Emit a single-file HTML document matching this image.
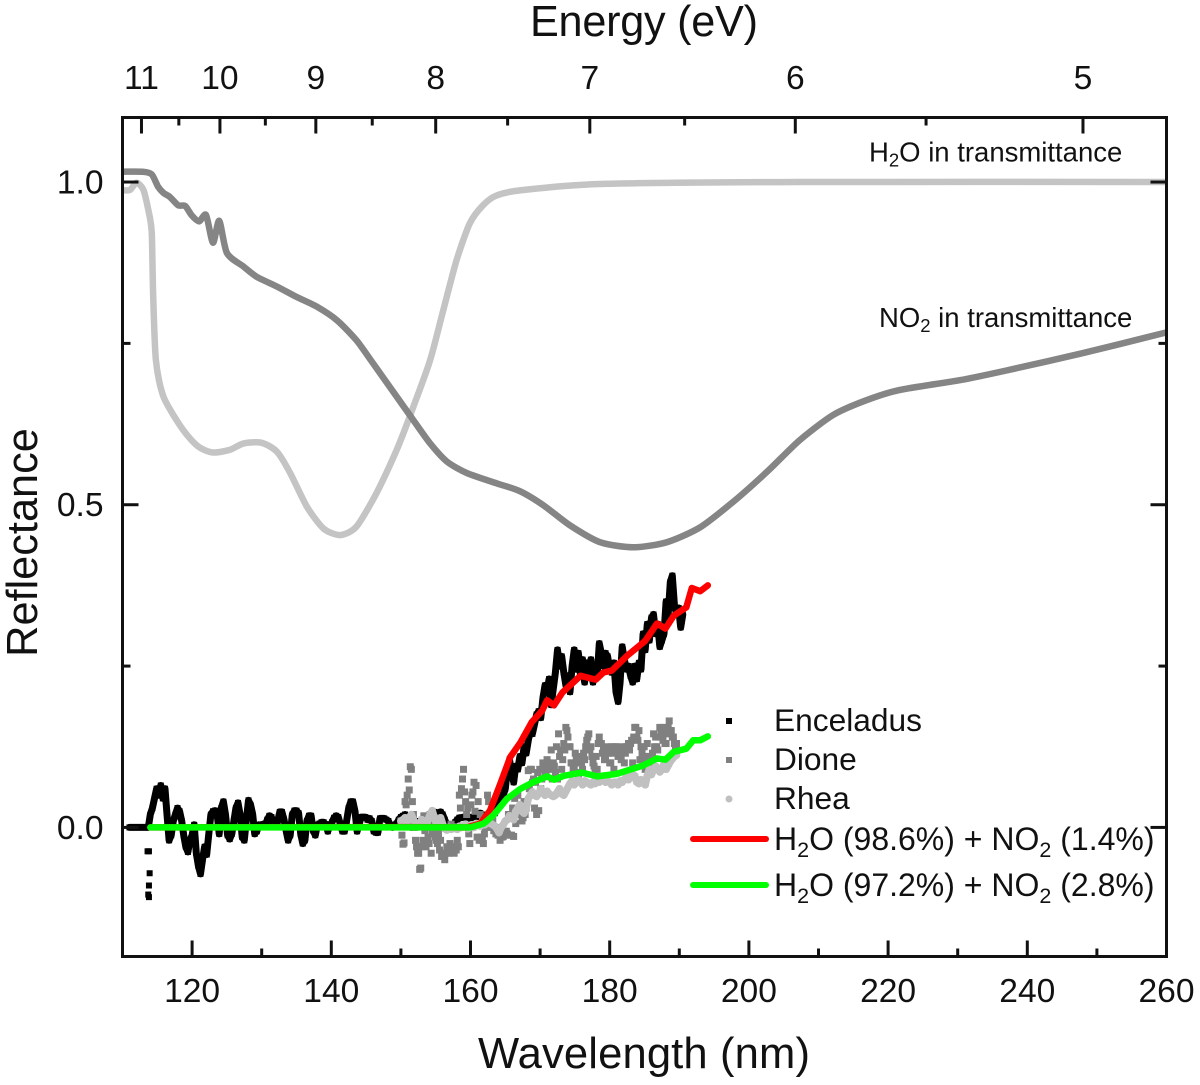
<!DOCTYPE html>
<html>
<head>
<meta charset="utf-8">
<title>Reflectance chart</title>
<style>
html,body{margin:0;padding:0;background:#fff;width:1200px;height:1085px;overflow:hidden}
svg{display:block}
text{font-family:"Liberation Sans",Arial,sans-serif;fill:#111}
</style>
</head>
<body>
<svg id="chart" xmlns="http://www.w3.org/2000/svg" width="1200" height="1085" viewBox="0 0 1200 1085">
  <g id="series-layer"></g>
  <rect x="122.5" y="117.5" width="1044" height="839" fill="none" stroke="#111" stroke-width="3"/>
  <g id="ticks-layer"></g>
  <text x="644" y="36" font-size="43.2" text-anchor="middle" textLength="228">Energy (eV)</text>
  <text x="644" y="1068" font-size="43.6" text-anchor="middle" textLength="332">Wavelength (nm)</text>
  <text transform="translate(37 542.5) rotate(-90)" font-size="43.3" text-anchor="middle">Reflectance</text>
  <text x="869" y="161.5" font-size="27.5">H<tspan font-size="18.5" dy="5">2</tspan><tspan dy="-5">O in transmittance</tspan></text>
  <text x="879" y="327" font-size="27.5">NO<tspan font-size="18.5" dy="5">2</tspan><tspan dy="-5"> in transmittance</tspan></text>
  <g>
    <rect x="726" y="718" width="6" height="6" fill="#000"/>
    <rect x="726" y="757" width="6" height="6" fill="#808080"/>
    <circle cx="729" cy="799" r="3.5" fill="#c0c0c0"/>
    <line x1="693" y1="839" x2="766" y2="839" stroke="#ff0000" stroke-width="6" stroke-linecap="round"/>
    <line x1="693" y1="885" x2="766" y2="885" stroke="#00ff00" stroke-width="6" stroke-linecap="round"/>
    <text x="774" y="731" font-size="31.7">Enceladus</text>
    <text x="774" y="770" font-size="31.7">Dione</text>
    <text x="774" y="809" font-size="31.7">Rhea</text>
    <text x="774" y="850" font-size="32">H<tspan font-size="21.5" dy="7">2</tspan><tspan dy="-7">O (98.6%) + NO</tspan><tspan font-size="21.5" dy="7">2</tspan><tspan dy="-7"> (1.4%)</tspan></text>
    <text x="774" y="896" font-size="32">H<tspan font-size="21.5" dy="7">2</tspan><tspan dy="-7">O (97.2%) + NO</tspan><tspan font-size="21.5" dy="7">2</tspan><tspan dy="-7"> (2.8%)</tspan></text>
  </g>
</svg>
<script>
// ---- axis tick data ----
const xMajorTicks = [120,140,160,180,200,220,240,260];
const xMinorTicks = [130,150,170,190,210,230,250];
const yMajorTicks = [0,0.5,1];
const yMinorTicks = [0.25,0.75];
const yTickLabels = ["0.0","0.5","1.0"];
const energyMajorTicks = [11,10,9,8,7,6,5];
const energyMinorTicks = [10.5,9.5,8.5,7.5,6.5,5.5];

// ---- transmittance curves ----
const no2Nm = [110.1,112.9,114.2,115.1,115.9,116.8,118,119,119.9,121,122,123,123.9,125,127.4,129.3,132.2,135,137.9,140.8,143.6,146,148.9,151.6,154.2,156.6,159.5,163.8,167.1,170.5,174.3,178.6,183.4,188.2,193,197.8,202.6,207.3,212.1,216.9,221.7,230.3,237,248,260];
const no2Values = [1.016,1.016,1.012,0.993,0.983,0.977,0.964,0.963,0.949,0.939,0.949,0.906,0.940,0.890,0.869,0.853,0.838,0.822,0.807,0.786,0.755,0.719,0.675,0.634,0.595,0.567,0.549,0.533,0.521,0.499,0.468,0.442,0.434,0.442,0.465,0.505,0.551,0.600,0.639,0.662,0.678,0.693,0.708,0.735,0.767];
const h2oNm = [110.1,111.1,112,113,113.7,114.2,114.4,114.8,115.9,118.7,120.9,123,125.4,127.4,130,132.2,134.1,136.5,138.9,141.3,143.6,146.5,149.4,151.8,154.2,156.1,158,159.9,161.8,163.7,167.1,178.6,207.3,260];
const h2oValues = [0.987,0.988,0.999,0.988,0.957,0.923,0.828,0.724,0.667,0.616,0.590,0.581,0.585,0.595,0.596,0.582,0.549,0.497,0.463,0.453,0.466,0.518,0.585,0.652,0.724,0.802,0.879,0.936,0.964,0.979,0.987,0.997,1.0,1.0];

// ---- model mixture lines ----
const redNm = [114,149.9,159.5,161.4,162.8,164.3,165.7,167.2,168.8,170.3,171,172,173.2,175.8,178,179.1,180.3,182.5,185.1,186.8,188,189.2,191,191.8,193,194.1];
const redValues = [0,0.0005,0,0.006,0.026,0.068,0.109,0.132,0.163,0.181,0.197,0.189,0.209,0.235,0.229,0.240,0.243,0.266,0.289,0.316,0.308,0.328,0.341,0.371,0.366,0.375];
const greenNm = [114,149.9,160,161.9,163.3,165.2,167.2,169,171,172,173.4,176,178.2,181,184.8,186.8,188,189.2,191,192,193,194.1];
const greenValues = [0,0,0,0.006,0.019,0.044,0.060,0.070,0.079,0.074,0.080,0.085,0.079,0.083,0.096,0.107,0.105,0.117,0.122,0.135,0.135,0.141];

// ---- measured spectra (wavelength = start + index * step) ----
const enceladusStartNm = 111;
const enceladusStepNm = 0.3;
const enceladusValues = [0,0,0,0,0,0,0,0,0,0,
.02,.03,.045,.06,.05,.065,.045,.06,.02,-.02,-.012,.01,.02,.03,.025,.01,-.012,-.03,-.038,-.02,-.012,.004,-.04,-.06,-.072,-.05,-.03,-.042,-.01,.02,.025,.026,.02,-.01,.03,.04,.02,-.012,-.018,-.01,.01,.03,.038,.02,-.015,-.02,.012,.042,.035,.02,-.01,-.006,.004,.002,.005,.003,.012,.018,.016,.004,.002,.01,.024,.024,.012,-.005,-.02,-.012,.02,.026,.026,.022,-.01,-.025,-.02,.01,.018,.018,-.005,-.012,.004,.006,.008,.008,.005,-.006,.003,.008,.015,.018,.016,.005,-.006,-.006,.01,.03,.04,.04,.025,-.006,.005,.016,.016,.016,.012,.014,.01,-.006,-.008,-.008,.014,.014,.014,.012,.01,.002,0,.004,.006,.012,.016,.018,
.02,.012,.005,0,.005,.01,.005,.008,.012,.01,.015,.018,.02,.024,.024,.02,.022,.024,.02,.012,.005,0,0,.004,.008,.012,.015,.015,.016,.016,.014,.015,.016,.014,.016,.02,.022,.02,
.015,.012,.02,.018,.02,.022,.03,.035,.045,.05,.06,.09,.105,.085,.07,.095,.09,.11,.10,.125,.115,.135,.15,.145,.16,.175,.18,.17,.20,.22,.21,.23,.19,.215,.24,.275,.25,.265,.24,.22,.235,.21,.25,.275,.245,.27,.235,.26,.225,.255,.235,.26,.225,.25,.235,.285,.27,.25,.27,.265,.245,.24,.255,.21,.195,.225,.28,.26,.245,.25,.235,.225,.25,.23,.255,.245,.30,.275,.315,.29,.325,.33,.30,.315,.28,.29,.30,.35,.33,.38,.39,.345,.33,.34,.31,.33];
const enceladusOutlierNm = [113.6,113.8,113.9,113.8,113.7,113.8];
const enceladusOutlierValues = [-.037,-.037,-.071,-.09,-.104,-.108];

const dioneStartNm = 150;
const dioneStepNm = 0.3;
const dioneValues = [.01,-.026,.04,.05,.058,.09,.02,-.02,-.04,-.065,-.03,.018,-.03,-.015,.02,-.01,.015,-.02,-.01,-.02,-.045,-.05,-.03,-.04,.005,-.035,-.03,-.02,.05,.06,.09,.04,.03,-.025,.05,.07,.065,.04,.02,-.02,-.01,.01,.04,.02,.01,-.002,0,-.004,-.002,-.014,-.006,-.01,-.012,-.012,-.014,.006,.05,.03,.01,.04,.03,.088,.09,.07,.03,.02,.026,.06,.10,.08,.105,.095,.12,.10,.085,.075,.11,.09,.13,.155,.14,.125,.10,.09,.105,.08,.11,.09,.105,.135,.145,.125,.10,.09,.09,.14,.13,.12,.11,.125,.10,.125,.09,.125,.11,.115,.125,.10,.125,.13,.13,.10,.155,.14,.15,.125,.10,.09,.13,.11,.10,.145,.14,.12,.155,.14,.155,.13,.155,.15,.14,.13,.13];
const dioneSecondStartNm = 150.15;
const dioneSecondStepNm = 0.3;
const dioneSecondValues = [-.012,-.024,.035,.075,.094,.04,0,-.03,-.04,-.063,-.02,-.005,0,-.025,-.04,.01,-.015,-.025,-.035,-.045,-.04,-.04,-.035,-.025,-.03,-.04,-.035,-.03,.03,.075,.055,.02,-.01,.035,.055,.025,-.015,-.02,-.015,-.025,0,.05,.02,0,-.005,-.01,-.012,-.02,-.015,-.008,-.006,.02,.02,.03,.045,.05,.03,.02,.015,.02,.04,.06,.09,.075,.07,.085,.09,.075,.09,.085,.10,.09,.075,.095,.125,.145,.12,.105,.12,.15,.125,.10,.09,.115,.10,.085,.10,.115,.125,.14,.12,.11,.095,.11,.13,.13,.115,.105,.12,.115,.10,.115,.125,.12,.115,.105,.12,.115,.125,.12,.135,.14,.155,.135,.105,.115,.125,.11,.10,.095,.115,.125,.125,.14,.15,.135,.13,.145,.165,.15,.14,.125];

const rheaStartNm = 150;
const rheaStepNm = 0.3;
const rheaValues = [.01,.012,.015,.008,.015,.02,.012,.005,.002,.006,.012,.005,.002,.012,.02,.026,.015,.006,.01,.015,.005,-.002,-.004,0,-.003,-.002,0,-.003,.002,0,.003,.005,-.002,0,.004,0,.006,.004,.002,.008,.004,.006,.01,.006,.004,.002,-.002,-.008,0,.004,.01,.012,.018,.015,.012,.025,.03,.035,.025,.022,.03,.045,.05,.055,.05,.048,.052,.06,.055,.05,.056,.052,.05,.048,.05,.055,.06,.052,.05,.056,.062,.068,.072,.066,.07,.074,.07,.066,.072,.07,.068,.066,.07,.068,.072,.07,.074,.076,.07,.072,.07,.066,.07,.07,.066,.072,.07,.074,.078,.074,.08,.082,.08,.07,.068,.074,.07,.066,.08,.09,.082,.09,.095,.092,.086,.09,.098,.09,.096,.102,.106,.11,.112];

// ---- axis functions ----
const xMin = 110, xMax = 260, yMin = -0.2, yMax = 1.1;
const plotLeft = 122.5, plotRight = 1166.5, plotTop = 117.5, plotBottom = 956.5;
function xScale(nm){ return plotLeft + (nm - xMin) / (xMax - xMin) * (plotRight - plotLeft); }
function yScale(v){ return plotBottom - (v - yMin) / (yMax - yMin) * (plotBottom - plotTop); }
function energyToNm(e){ return 1240 / e; }

const SVGNS = 'http://www.w3.org/2000/svg';
const seriesLayer = document.getElementById('series-layer');
const ticksLayer = document.getElementById('ticks-layer');

function addTick(x1, y1, x2, y2, name){
  const el = document.createElementNS(SVGNS, 'line');
  el.setAttribute('x1', x1);
  el.setAttribute('y1', y1);
  el.setAttribute('x2', x2);
  el.setAttribute('y2', y2);
  el.setAttribute('stroke', '#111');
  el.setAttribute('stroke-width', '3');
  
  
  ticksLayer.appendChild(el);
}
function addLabel(x, y, str, anchor, name){
  const el = document.createElementNS(SVGNS, 'text');
  el.setAttribute('x', x);
  el.setAttribute('y', y);
  el.setAttribute('font-size', '33.6');
  el.setAttribute('text-anchor', anchor);
  el.textContent = str;
  
  
  ticksLayer.appendChild(el);
}

const majorLen = 16, minorLen = 8;
xMajorTicks.forEach(function(t){
  addTick(xScale(t), plotBottom, xScale(t), plotBottom - majorLen, 'x-major-tick');
  addLabel(xScale(t), 1002, String(t), 'middle', 'x-tick-label');
});
xMinorTicks.forEach(function(t){
  addTick(xScale(t), plotBottom, xScale(t), plotBottom - minorLen, 'x-minor-tick');
});
energyMajorTicks.forEach(function(e){
  addTick(xScale(energyToNm(e)), plotTop, xScale(energyToNm(e)), plotTop + majorLen, 'energy-major-tick');
  addLabel(xScale(energyToNm(e)), 89, String(e), 'middle', 'energy-tick-label');
});
energyMinorTicks.forEach(function(e){
  addTick(xScale(energyToNm(e)), plotTop, xScale(energyToNm(e)), plotTop + minorLen, 'energy-minor-tick');
});
yMajorTicks.forEach(function(v, i){
  addTick(plotLeft, yScale(v), plotLeft + majorLen, yScale(v), 'y-major-tick-left');
  addTick(plotRight, yScale(v), plotRight - majorLen, yScale(v), 'y-major-tick-right');
  addLabel(103.5, yScale(v) + 11.5, yTickLabels[i], 'end', 'y-tick-label');
});
yMinorTicks.forEach(function(v){
  addTick(plotLeft, yScale(v), plotLeft + minorLen, yScale(v), 'y-minor-tick-left');
  addTick(plotRight, yScale(v), plotRight - minorLen, yScale(v), 'y-minor-tick-right');
});

function drawSquares(startNm, stepNm, values, color, size, name){
  values.forEach(function(v, i){
    const el = document.createElementNS(SVGNS, 'rect');
    el.setAttribute('x', xScale(startNm + i * stepNm) - size / 2);
    el.setAttribute('y', yScale(v) - size / 2);
    el.setAttribute('width', size);
    el.setAttribute('height', size);
    el.setAttribute('fill', color);
    
    
    seriesLayer.appendChild(el);
  });
}
function drawCircles(startNm, stepNm, values, color, name){
  values.forEach(function(v, i){
    const el = document.createElementNS(SVGNS, 'circle');
    el.setAttribute('cx', xScale(startNm + i * stepNm));
    el.setAttribute('cy', yScale(v));
    el.setAttribute('r', 3.8);
    el.setAttribute('fill', color);
    
    
    seriesLayer.appendChild(el);
  });
}
function drawLine(nm, values, color, width, name){
  const el = document.createElementNS(SVGNS, 'polyline');
  const pts = nm.map(function(n, i){ return xScale(n).toFixed(1) + ',' + yScale(values[i]).toFixed(1); });
  el.setAttribute('points', pts.join(' '));
  el.setAttribute('fill', 'none');
  el.setAttribute('stroke', color);
  el.setAttribute('stroke-width', width);
  el.setAttribute('stroke-linejoin', 'round');
  el.setAttribute('stroke-linecap', 'round');
  
  
  seriesLayer.appendChild(el);
}
function drawSmoothLine(nm, values, color, width, name){
  const px = nm.map(xScale);
  const py = values.map(yScale);
  const k = 1 / 8;
  let d = 'M' + px[0].toFixed(1) + ' ' + py[0].toFixed(1);
  for (let i = 0; i < px.length - 1; i++) {
    const a = Math.max(i - 1, 0), b = Math.min(i + 2, px.length - 1);
    const c1x = px[i] + (px[i + 1] - px[a]) * k;
    const c1y = py[i] + (py[i + 1] - py[a]) * k;
    const c2x = px[i + 1] - (px[b] - px[i]) * k;
    const c2y = py[i + 1] - (py[b] - py[i]) * k;
    d += 'C' + c1x.toFixed(1) + ' ' + c1y.toFixed(1) + ' ' + c2x.toFixed(1) + ' ' + c2y.toFixed(1) + ' ' + px[i + 1].toFixed(1) + ' ' + py[i + 1].toFixed(1);
  }
  const el = document.createElementNS(SVGNS, 'path');
  el.setAttribute('d', d);
  el.setAttribute('fill', 'none');
  el.setAttribute('stroke', color);
  el.setAttribute('stroke-width', width);
  el.setAttribute('stroke-linejoin', 'round');
  
  
  seriesLayer.appendChild(el);
}
function sampledNm(startNm, stepNm, values){
  return values.map(function(v, i){ return startNm + i * stepNm; });
}

drawSmoothLine(h2oNm, h2oValues, '#c4c4c4', 6.5, 'h2o-transmittance-line');
drawSmoothLine(no2Nm, no2Values, '#858585', 6.5, 'no2-transmittance-line');

drawLine(sampledNm(enceladusStartNm, enceladusStepNm, enceladusValues), enceladusValues, '#000', 7, 'enceladus-trace');
drawSquares(enceladusStartNm, enceladusStepNm, enceladusValues, '#000', 6, 'enceladus-point');
enceladusOutlierNm.forEach(function(n, i){
  const el = document.createElementNS(SVGNS, 'rect');
  el.setAttribute('x', xScale(n) - 3);
  el.setAttribute('y', yScale(enceladusOutlierValues[i]) - 3);
  el.setAttribute('width', 6);
  el.setAttribute('height', 6);
  el.setAttribute('fill', '#000');
  
  
  seriesLayer.appendChild(el);
});
drawSquares(dioneStartNm, dioneStepNm, dioneValues, '#808080', 7, 'dione-point');
drawSquares(dioneSecondStartNm, dioneSecondStepNm, dioneSecondValues, '#808080', 7, 'dione-point');
drawLine(sampledNm(rheaStartNm, rheaStepNm, rheaValues), rheaValues, '#c0c0c0', 7.5, 'rhea-trace');
drawCircles(rheaStartNm, rheaStepNm, rheaValues, '#c0c0c0', 'rhea-point');
drawLine(redNm, redValues, '#ff0000', 6.5, 'red-mixture-line');
drawLine(greenNm, greenValues, '#00ff00', 6.5, 'green-mixture-line');
</script>
</body>
</html>
